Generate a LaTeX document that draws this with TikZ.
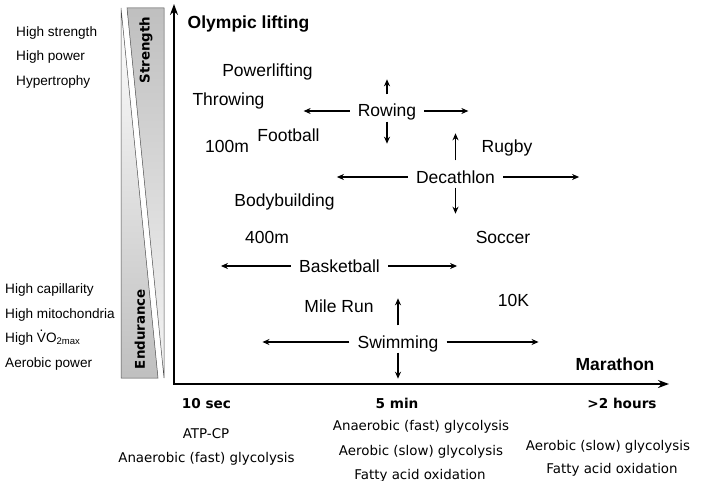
\documentclass[tikz,border=0pt]{standalone}
\usepackage{fontspec}
\setmainfont{Liberation Sans}
\newfontfamily\verdfont{DejaVu Sans}
\usetikzlibrary{arrows.meta,positioning}
\newcommand{\vdotV}{\leavevmode\rlap{\smash{\hspace{0.19em}\raisebox{0.74em}{.}}}V}
\tikzset{
  sport/.style={font=\fontsize{17.5}{20}\selectfont, anchor=base, inner xsep=8pt, inner ysep=4pt, text height=12.5pt, text depth=0.5pt},
  trait/.style={font=\fontsize{13.6}{16}\selectfont, anchor=base west, inner sep=0pt},
  energy/.style={font=\verdfont\fontsize{13.4}{16}\selectfont, anchor=base, inner sep=0pt},
  tick/.style={font=\verdfont\bfseries\fontsize{13.6}{16}\selectfont, anchor=base, inner sep=0pt},
  axlabel/.style={font=\bfseries\fontsize{17.5}{20}\selectfont, anchor=base, inner sep=0pt},
  barlabel/.style={font=\verdfont\bfseries\fontsize{13.4}{16}\selectfont, rotate=90, inner sep=0pt},
  arr/.style={-{Stealth[length=7pt,width=6pt]}, line width=1.3pt},
  axis/.style={{Stealth[length=11pt,width=8pt]}-{Stealth[length=11pt,width=8pt]}, line width=2.2pt},
}
\begin{document}
\begin{tikzpicture}[x=1pt,y=-1pt]
\useasboundingbox (0,0) rectangle (703,481);

% strength / endurance wedge
\shade[top color=white, bottom color=gray!50, draw=gray!60!black, line width=0.5pt] (121,8) -- (158,378) -- (121,378) -- cycle;
\shade[top color=gray!50, bottom color=gray!8, draw=gray!60!black, line width=0.5pt] (127,8) -- (164,8) -- (164,378) -- cycle;
\node[barlabel] (str) at (146,50) {Strength};
\node[barlabel] (end) at (140,329) {Endurance};

% traits
\node[trait] (t1) at (16,37) {High strength};
\node[trait] (t2) at (16,61) {High power};
\node[trait] (t3) at (16,86) {Hypertrophy};
\node[trait] (t4) at (5,293) {High capillarity};
\node[trait] (t5) at (5,318) {High mitochondria};
\node[trait] (t6) at (5,342) {High \vdotV O\textsubscript{2max}};
\node[trait] (t7) at (5,367) {Aerobic power};

% axes
\coordinate (ytop) at (174,4);
\coordinate (origin) at (174,384);
\coordinate (xend) at (669,384);
\draw[axis] (ytop) -- (origin) -- (xend);
\node[axlabel] (oly) at (248.5,29) {Olympic lifting};
\node[axlabel] (mar) at (615,370) {Marathon};

% sports
\node[sport] (pow) at (267.5,77) {Powerlifting};
\node[sport] (thr) at (228.5,106) {Throwing};
\node[sport] (row) at (387,117) {Rowing};
\node[sport] (foo) at (288.5,142) {Football};
\node[sport] (hun) at (227,153) {100m};
\node[sport] (rug) at (507,153) {Rugby};
\node[sport] (dec) at (455.5,183) {Decathlon};
\node[sport] (bod) at (284.5,206) {Bodybuilding};
\node[sport] (fou) at (267,243) {400m};
\node[sport] (soc) at (503,243) {Soccer};
\node[sport] (bas) at (339.5,272) {Basketball};
\node[sport] (mil) at (339,312) {Mile Run};
\node[sport] (ten) at (513.5,306) {10K};
\node[sport] (swi) at (398,348) {Swimming};

\coordinate[left=46pt of row] (row-w);
\coordinate[right=44pt of row] (row-e);
\coordinate[above=21pt of row] (row-n);
\coordinate[below=22pt of row] (row-s);
\coordinate[left=71pt of dec] (dec-w);
\coordinate[right=76pt of dec] (dec-e);
\coordinate[above=33pt of dec] (dec-n);
\coordinate[below=26pt of dec] (dec-s);
\coordinate[left=70pt of bas] (bas-w);
\coordinate[right=69pt of bas] (bas-e);
\coordinate[left=87pt of swi] (swi-w);
\coordinate[right=92pt of swi] (swi-e);
\coordinate[above=33pt of swi] (swi-n);
\coordinate[below=26pt of swi] (swi-s);

\draw[arr] (row.west) -- (row-w);
\draw[arr] (row.east) -- (row-e);
\draw[arr, shorten <=6pt] (row.north) -- (row-n);
\draw[arr] (row.south) -- (row-s);
\draw[arr] (dec.west) -- (dec-w);
\draw[arr] (dec.east) -- (dec-e);
\draw[arr, shorten <=6pt] (dec.north) -- (dec-n);
\draw[arr] (dec.south) -- (dec-s);
\draw[arr] (bas.west) -- (bas-w);
\draw[arr] (bas.east) -- (bas-e);
\draw[arr] (swi.west) -- (swi-w);
\draw[arr] (swi.east) -- (swi-e);
\draw[arr, shorten <=6pt] (swi.north) -- (swi-n);
\draw[arr] (swi.south) -- (swi-s);

% time and energy systems
\node[tick] (s10) at (206.5,408) {10 sec};
\node[energy] (e1) at (206,438) {ATP-CP};
\node[energy] (e2) at (206.5,462) {Anaerobic (fast) glycolysis};
\node[tick] (m5) at (397,408) {5 min};
\node[energy] (e3) at (421,430) {Anaerobic (fast) glycolysis};
\node[energy] (e4) at (421,455) {Aerobic (slow) glycolysis};
\node[energy] (e5) at (420,479) {Fatty acid oxidation};
\node[tick] (h2) at (622,408) {>2 hours};
\node[energy] (e6) at (608,450) {Aerobic (slow) glycolysis};
\node[energy] (e7) at (612,473) {Fatty acid oxidation};
\end{tikzpicture}
\end{document}
